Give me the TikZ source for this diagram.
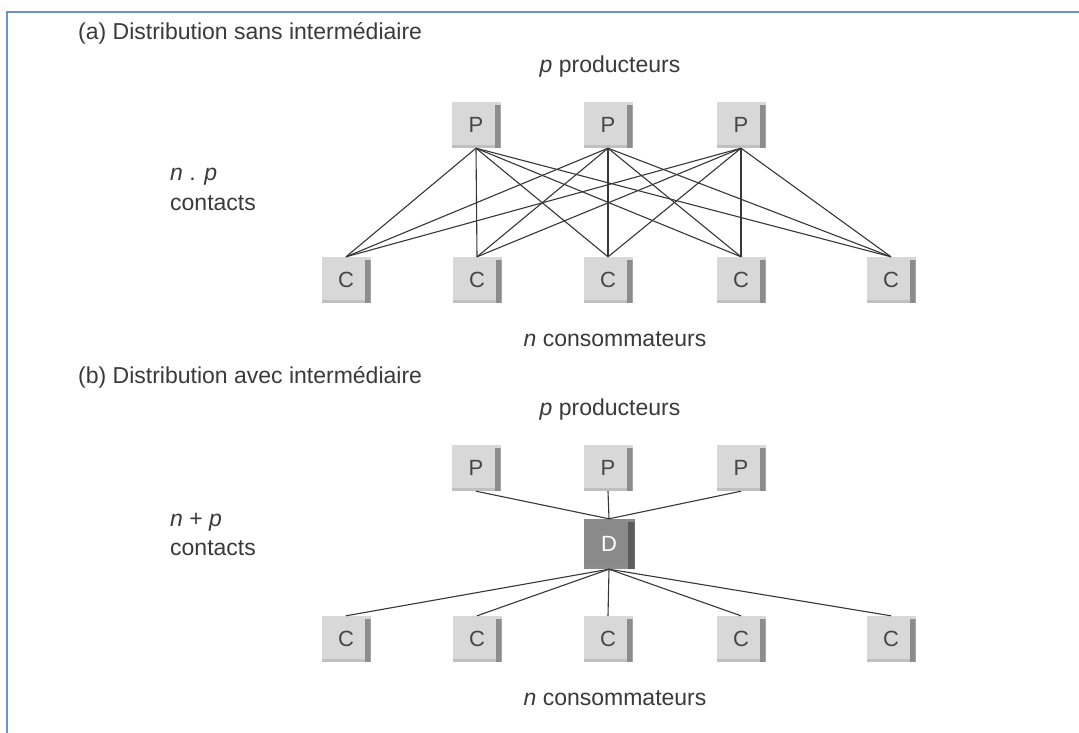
\documentclass[tikz,border=0pt]{standalone}
\usepackage{fontspec}
\setmainfont{Liberation Sans}
\definecolor{framecol}{RGB}{110,146,204}
\definecolor{textgray}{RGB}{58,58,58}
\definecolor{boxgray}{RGB}{216,216,216}
\definecolor{stripgray}{RGB}{140,140,140}
\definecolor{edgegray}{RGB}{192,192,192}
\definecolor{lettergray}{RGB}{70,70,70}
\definecolor{distgray}{RGB}{138,138,138}
\definecolor{diststrip}{RGB}{92,92,92}
\definecolor{linegray}{RGB}{55,55,55}
\begin{document}
\begin{tikzpicture}[x=1pt,y=-1pt,
  txt/.style={text=textgray, font=\fontsize{23}{26}\selectfont, inner sep=0pt},
  box/.style={fill=boxgray, minimum width=49pt, minimum height=46pt, inner sep=0pt,
    text=lettergray, font=\fontsize{22}{24}\selectfont,
    path picture={
      \fill[stripgray] ([xshift=-6pt,yshift=-3pt]path picture bounding box.north east)
        rectangle (path picture bounding box.south east);
      \fill[edgegray] (path picture bounding box.south west)
        rectangle ([xshift=-6pt,yshift=3pt]path picture bounding box.south east);}},
  distbox/.style={box, fill=distgray, text=white, minimum width=51pt, minimum height=50pt,
    path picture={
      \fill[diststrip] ([xshift=-7pt,yshift=-3pt]path picture bounding box.north east)
        rectangle (path picture bounding box.south east);
      \fill[diststrip!70] (path picture bounding box.south west)
        rectangle ([xshift=-7pt,yshift=3pt]path picture bounding box.south east);}},
  link/.style={draw=linegray, line width=1.1pt}
]
\useasboundingbox (0,0) rectangle (1079,733);
\fill[white] (0,0) rectangle (1079,733);

% frame
\draw[framecol, line width=2pt] (7,733) -- (7,12) -- (1079,12);

% (a) direct distribution
\node[txt, anchor=west] (ta) at (78,33) {(a) Distribution sans intermédiaire};
\node[txt] (pa) at (610,67) {\textit{p} producteurs};
\node[txt, anchor=west] (npa) at (170,177) {\textit{n} . \textit{p}};
\node[txt, anchor=west] (cta) at (170,203) {contacts};
\node[txt] (na) at (615,339) {\textit{n} consommateurs};

\foreach \i/\x in {1/476,2/608,3/741}
  \node[box] (pa\i) at (\x,125) {P};
\foreach \j/\x in {1/346,2/477,3/608,4/741,5/891}
  \node[box] (ca\j) at (\x,280) {C};

\foreach \i in {1,2,3}
  \foreach \j in {1,...,5}
    \draw[link] (pa\i.south) -- (ca\j.north);

% (b) distribution through an intermediary
\node[txt, anchor=west] (tb) at (78,377) {(b) Distribution avec intermédiaire};
\node[txt] (pb) at (610,410) {\textit{p} producteurs};
\node[txt, anchor=west] (npb) at (170,522) {\textit{n} + \textit{p}};
\node[txt, anchor=west] (ctb) at (170,548) {contacts};
\node[txt] (nb) at (615,698) {\textit{n} consommateurs};

\foreach \i/\x in {1/476,2/608,3/741}
  \node[box] (pb\i) at (\x,468) {P};
\node[distbox] (d) at (609,544) {D};
\foreach \j/\x in {1/346,2/477,3/608,4/741,5/891}
  \node[box] (cb\j) at (\x,639) {C};

\foreach \i in {1,2,3}
  \draw[link] (pb\i.south) -- (d.north);
\foreach \j in {1,...,5}
  \draw[link] (d.south) -- (cb\j.north);
\end{tikzpicture}
\end{document}
